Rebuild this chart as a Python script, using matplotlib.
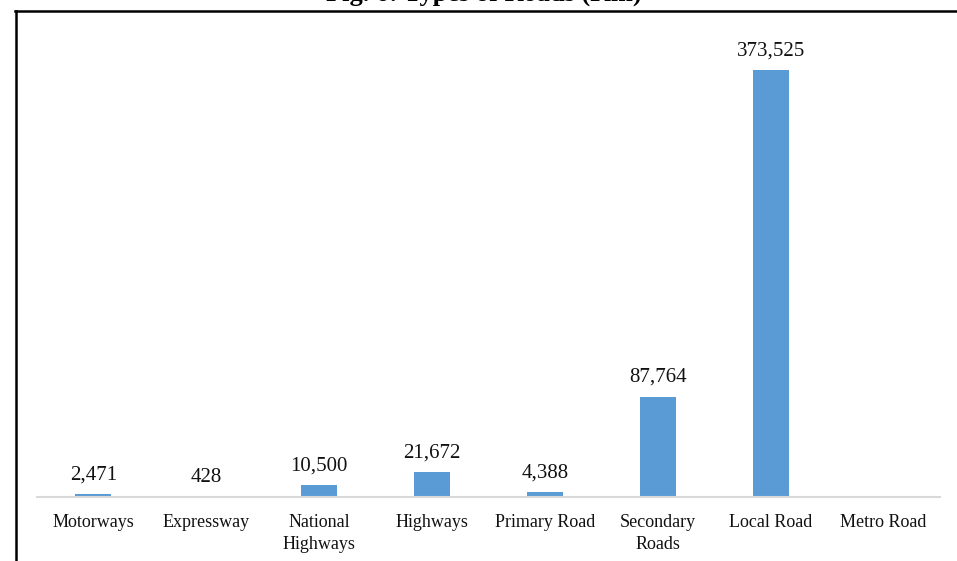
import numpy as np
import matplotlib.pyplot as plt
from matplotlib.lines import Line2D

categories = ['Motorways', 'Expressway', 'National\nHighways', 'Highways',
              'Primary Road', 'Secondary\nRoads', 'Local Road', 'Metro Road']
road_km = [2471, 428, 10500, 21672, 4388, 87764, 373525, np.nan]

plt.rcParams['font.family'] = ['Liberation Serif', 'DejaVu Serif']

W, H = 957, 561
fig = plt.figure(figsize=(W / 100, H / 100), dpi=100)
ax = fig.add_axes([37 / W, (H - 497) / H, (940 - 37) / W, (497 - 40) / H])

x = np.arange(len(categories))
ax.bar(x, road_km, width=0.32, color='#5B9BD5', zorder=2)

for xi, v in zip(x, road_km):
    if np.isnan(v):
        continue
    ax.annotate(f'{int(v):,}', (xi, v), xytext=(0, 7), textcoords='offset points',
                ha='center', va='bottom', fontsize=15, color='#111111')

ax.set_xlim(-0.5, len(categories) - 0.5)
ax.set_ylim(0, 400000)
ax.set_xticks(x)
ax.set_xticklabels(categories, fontsize=13, color='#111111', linespacing=1.4)
ax.tick_params(axis='x', length=0, pad=12)
ax.set_yticks([])
for side in ['top', 'right', 'left']:
    ax.spines[side].set_visible(False)
ax.spines['bottom'].set_color('#d9d9d9')
ax.spines['bottom'].set_linewidth(1.5)

# page frame and caption sitting above the chart's top rule
fig.add_artist(Line2D([15 / W, 1], [1 - 11 / H, 1 - 11 / H], color='black', lw=1.8))
fig.add_artist(Line2D([16 / W, 16 / W], [0, 1 - 11 / H], color='black', lw=1.8))
fig.text(484 / W, 1 - 1 / H, 'Fig. 6: Types of Roads (Km)', ha='center', va='baseline',
         fontsize=19, fontweight='bold', color='black')

fig.savefig('out.png', dpi=100)
